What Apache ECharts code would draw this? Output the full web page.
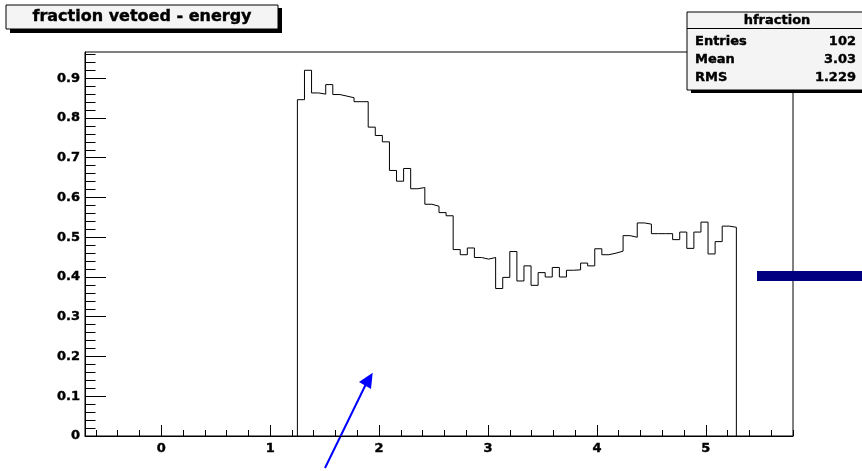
<!DOCTYPE html>
<html><head><meta charset="utf-8">
<script src="https://cdn.jsdelivr.net/npm/echarts@6/dist/echarts.min.js"></script>
<style>html,body{margin:0;padding:0;background:#fff;}#c{width:862px;height:471px;}</style>
</head><body><div id="c"></div>
<script>
// ---- data ----
const xRange = [-0.7, 5.8];
const yRange = [0, 0.966];
const binStart = 1.25;
const binWidth = 0.065;
const binValues = [
  0.846, 0.920, 0.863, 0.860, 0.884, 0.859, 0.855, 0.851, 0.841, 0.841,
  0.777, 0.756, 0.740, 0.668, 0.641, 0.673, 0.622, 0.625, 0.583, 0.578,
  0.562, 0.554, 0.469, 0.456, 0.473, 0.449, 0.445, 0.449, 0.371, 0.399,
  0.464, 0.390, 0.428, 0.379, 0.411, 0.400, 0.424, 0.400, 0.417, 0.418,
  0.435, 0.428, 0.471, 0.456, 0.460, 0.465, 0.504, 0.500, 0.536, 0.533,
  0.509, 0.509, 0.509, 0.494, 0.513, 0.472, 0.513, 0.538, 0.458, 0.489,
  0.528, 0.525
];
const xMajorTicks = [0, 1, 2, 3, 4, 5];
const yMajorTicks = [0, 0.1, 0.2, 0.3, 0.4, 0.5, 0.6, 0.7, 0.8, 0.9];
const xMinorTicks = [];
for (let k = -3; k <= 29; k++) xMinorTicks.push(+(k * 0.2).toFixed(2));
const yMinorTicks = [];
for (let k = 0; k <= 48; k++) yMinorTicks.push(+(k * 0.02).toFixed(2));
const titleText = 'fraction vetoed - energy';
const statsName = 'hfraction';
const statsRows = [['Entries', '102'], ['Mean', '3.03'], ['RMS', '1.229']];

// ---- build histogram outline ----
const pts = [[binStart, 0]];
binValues.forEach((v, i) => {
  const lo = binStart + i * binWidth;
  pts.push([lo, v], [lo + binWidth, v]);
});
pts.push([binStart + binValues.length * binWidth, 0]);

const FONT = 'DejaVu Sans';
const gridPos = {left: 85, right: 69, top: 52, bottom: 35};
const lbl = {fontFamily: FONT, fontWeight: 'bold', fontSize: 13, color: '#000', textBorderColor: '#000', textBorderWidth: 0.4};
const heavy = {fill: '#000', stroke: '#000', lineWidth: 0.4};

const chart = echarts.init(document.getElementById('c'), null, {renderer: 'canvas'});

const graphics = [
  // title
  {type: 'rect', shape: {x: 10, y: 8, width: 272, height: 25}, style: {fill: '#000'}},
  {type: 'rect', shape: {x: 6, y: 5, width: 272, height: 24}, style: {fill: '#f4f4f4', stroke: '#000', lineWidth: 1}},
  {type: 'text', x: 142, y: 17, style: Object.assign({text: titleText, font: 'bold 16px "DejaVu Sans"', align: 'center', verticalAlign: 'middle'}, heavy)},
  // stats box
  {type: 'rect', shape: {x: 691, y: 15, width: 180, height: 78}, style: {fill: '#000'}},
  {type: 'rect', shape: {x: 687, y: 12, width: 180, height: 78}, style: {fill: '#f4f4f4', stroke: '#000', lineWidth: 1}},
  {type: 'line', shape: {x1: 687, y1: 28.5, x2: 867, y2: 28.5}, style: {stroke: '#000', lineWidth: 1}},
  {type: 'text', x: 777, y: 21, style: Object.assign({text: statsName, font: 'bold 13px "DejaVu Sans"', align: 'center', verticalAlign: 'middle'}, heavy)},
  // navy bar
  {type: 'rect', shape: {x: 757, y: 271, width: 106, height: 10}, style: {fill: '#000080'}},
  // blue arrow
  {type: 'line', shape: {x1: 325, y1: 468, x2: 366, y2: 384}, style: {stroke: '#0000ff', lineWidth: 2}},
  {type: 'polygon', shape: {points: [[372.7, 372.7], [359, 382], [371, 389]]}, style: {fill: '#0000ff'}}
];
statsRows.forEach((r, i) => {
  const y = 41.5 + i * 18.3;
  graphics.push({type: 'text', x: 695, y: y, style: Object.assign({text: r[0], font: 'bold 13px "DejaVu Sans"', align: 'left', verticalAlign: 'middle'}, heavy)});
  graphics.push({type: 'text', x: 856, y: y, style: Object.assign({text: r[1], font: 'bold 13px "DejaVu Sans"', align: 'right', verticalAlign: 'middle'}, heavy)});
});

chart.setOption({
  animation: false,
  backgroundColor: '#fff',
  grid: [
    Object.assign({show: true, borderColor: '#000', borderWidth: 1, backgroundColor: '#fff', containLabel: false}, gridPos),
    Object.assign({show: false, containLabel: false}, gridPos)
  ],
  xAxis: [
    {type: 'value', gridIndex: 0, min: xRange[0], max: xRange[1], position: 'bottom',
      axisLine: {show: true, onZero: false, lineStyle: {color: '#000', width: 1}},
      splitLine: {show: false},
      axisTick: {show: true, inside: true, length: 11, lineStyle: {color: '#000'}, customValues: xMajorTicks},
      axisLabel: Object.assign({customValues: xMajorTicks, margin: 6}, lbl)},
    {type: 'value', gridIndex: 1, min: xRange[0], max: xRange[1], position: 'bottom',
      axisLine: {show: false, onZero: false},
      splitLine: {show: false},
      axisTick: {show: true, inside: true, length: 6, lineStyle: {color: '#000'}, customValues: xMinorTicks},
      axisLabel: {show: false}}
  ],
  yAxis: [
    {type: 'value', gridIndex: 0, min: yRange[0], max: yRange[1], position: 'left',
      axisLine: {show: true, onZero: false, lineStyle: {color: '#000', width: 1}},
      splitLine: {show: false},
      axisTick: {show: true, inside: true, length: 21, lineStyle: {color: '#000'}, customValues: yMajorTicks},
      axisLabel: Object.assign({customValues: yMajorTicks, margin: 5}, lbl)},
    {type: 'value', gridIndex: 1, min: yRange[0], max: yRange[1], position: 'left',
      axisLine: {show: false, onZero: false},
      splitLine: {show: false},
      axisTick: {show: true, inside: true, length: 10.5, lineStyle: {color: '#000'}, customValues: yMinorTicks},
      axisLabel: {show: false}}
  ],
  series: [{
    type: 'line', xAxisIndex: 0, yAxisIndex: 0, data: pts,
    showSymbol: false, symbol: 'none', silent: true,
    lineStyle: {color: '#000', width: 1}
  }],
  graphic: graphics
});
</script>
</body></html>
